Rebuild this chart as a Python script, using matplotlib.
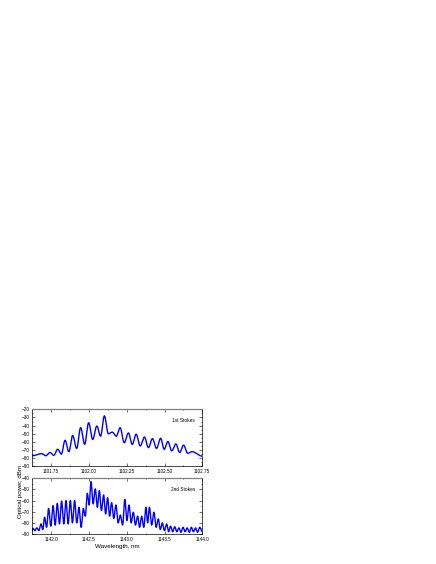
import numpy as np
import matplotlib
matplotlib.use('Agg')
import matplotlib.pyplot as plt
from matplotlib.ticker import MultipleLocator, FormatStrFormatter

plt.rcParams['font.family'] = ['Liberation Sans', 'DejaVu Sans']

# 1st Stokes: peak wavelengths (nm), peak levels and valley levels between them (dBm)
stokes1_wl = [1101.687, 1101.742, 1101.793, 1101.842, 1101.892, 1101.945, 1101.998,
              1102.052, 1102.102, 1102.155, 1102.206, 1102.261, 1102.312, 1102.367,
              1102.420, 1102.474, 1102.522, 1102.575, 1102.626, 1102.681]
stokes1_peak = [-74.5, -73.0, -69.0, -58.0, -52.0, -42.5, -36.5,
                -40.5, -28.0, -48.0, -42.5, -49.0, -50.5, -54.0,
                -56.0, -55.5, -59.5, -62.5, -64.0, -72.0]
stokes1_valley = [-77.0, -76.5, -75.0, -72.0, -68.0, -63.0, -57.0,
                  -53.0, -50.0, -53.0, -61.0, -63.0, -65.0, -67.0,
                  -68.0, -69.0, -71.0, -73.0, -74.0]
stokes1_edges = [-77.0, -77.5]

# 2nd Stokes
stokes2_wl = [1141.760, 1141.810, 1141.865, 1141.913, 1141.966, 1142.025, 1142.081,
              1142.138, 1142.196, 1142.253, 1142.310, 1142.368, 1142.425, 1142.478,
              1142.527, 1142.584, 1142.637, 1142.694, 1142.747, 1142.800, 1142.857,
              1142.915, 1142.975, 1143.030, 1143.087, 1143.144, 1143.197, 1143.254,
              1143.300, 1143.360, 1143.418, 1143.470, 1143.528, 1143.580, 1143.635,
              1143.690, 1143.745, 1143.800, 1143.855, 1143.910, 1143.965]
stokes2_peak = [-85.0, -84.5, -81.0, -75.0, -67.0, -64.5, -62.5,
                -60.5, -60.0, -60.0, -60.0, -66.0, -67.0, -53.5,
                -43.0, -49.5, -51.0, -55.0, -57.5, -62.0, -64.0,
                -73.0, -59.0, -64.0, -70.5, -74.0, -74.0, -66.0,
                -66.0, -70.5, -76.5, -80.0, -81.0, -83.0, -83.5,
                -84.5, -84.0, -84.5, -84.0, -84.5, -84.0]
stokes2_valley = [-87.0, -87.0, -86.0, -84.0, -83.0, -82.0, -81.0,
                  -81.0, -81.0, -80.0, -80.0, -84.0, -74.0, -64.0,
                  -63.0, -66.0, -69.0, -72.0, -74.0, -76.0, -80.0,
                  -82.0, -78.0, -80.0, -82.0, -84.0, -84.0, -80.0,
                  -82.0, -84.0, -86.0, -87.0, -88.0, -88.0, -88.0,
                  -88.5, -88.0, -88.5, -88.0, -88.5]
stokes2_edges = [-87.0, -88.0]


def spectrum(wl, xlim, peaks, peak_db, valley_db, edges):
    # nodes alternate peak / valley, valleys sit midway between peaks
    mids = [(a + b) / 2 for a, b in zip(peaks[:-1], peaks[1:])]
    nx = [xlim[0]]
    ny = [edges[0]]
    for i, (c, p) in enumerate(zip(peaks, peak_db)):
        nx.append(c)
        ny.append(p)
        if i < len(mids):
            nx.append(mids[i])
            ny.append(valley_db[i])
    nx.append(xlim[1])
    ny.append(edges[1])
    nx = np.array(nx)
    ny = np.array(ny)
    idx = np.clip(np.searchsorted(nx, wl) - 1, 0, len(nx) - 2)
    t = (wl - nx[idx]) / (nx[idx + 1] - nx[idx])
    s = (1 - np.cos(np.pi * t)) / 2
    return ny[idx] + (ny[idx + 1] - ny[idx]) * s


fig = plt.figure(figsize=(4.36, 5.64), dpi=100)
ax1 = fig.add_axes([0.074, 0.1732, 0.390, 0.101])
ax2 = fig.add_axes([0.074, 0.0532, 0.390, 0.0988])

xlim1 = (1101.625, 1102.75)
wl1 = np.linspace(xlim1[0], xlim1[1], 4000)
ax1.plot(wl1, spectrum(wl1, xlim1, stokes1_wl, stokes1_peak, stokes1_valley, stokes1_edges),
         color='#0000ff', lw=1.0)
ax1.set_xlim(*xlim1)
ax1.set_ylim(-90, -20)
ax1.xaxis.set_major_locator(MultipleLocator(0.25))
ax1.xaxis.set_minor_locator(MultipleLocator(0.125))
ax1.yaxis.set_major_locator(MultipleLocator(10))
ax1.yaxis.set_minor_locator(MultipleLocator(5))
ax1.xaxis.set_major_formatter(FormatStrFormatter('%.2f'))
ax1.text(0.89, 0.77, '1st Stokes', transform=ax1.transAxes, fontsize=3.4, ha='center')

xlim2 = (1141.75, 1144.0)
wl2 = np.linspace(xlim2[0], xlim2[1], 6000)
ax2.plot(wl2, spectrum(wl2, xlim2, stokes2_wl, stokes2_peak, stokes2_valley, stokes2_edges),
         color='#0000ff', lw=1.0)
ax2.set_xlim(*xlim2)
ax2.set_ylim(-90, -40)
ax2.xaxis.set_major_locator(MultipleLocator(0.5))
ax2.xaxis.set_minor_locator(MultipleLocator(0.25))
ax2.yaxis.set_major_locator(MultipleLocator(10))
ax2.yaxis.set_minor_locator(MultipleLocator(5))
ax2.xaxis.set_major_formatter(FormatStrFormatter('%.1f'))
ax2.text(0.89, 0.78, '2nd Stokes', transform=ax2.transAxes, fontsize=3.4, ha='center')
ax2.set_xlabel('Wavelength, nm', fontsize=4.5, labelpad=1.5)

for ax in (ax1, ax2):
    ax.tick_params(which='both', direction='in', top=True, right=True,
                   labelsize=3.3, pad=2, width=0.4)
    ax.tick_params(which='major', length=2)
    ax.tick_params(which='minor', length=1)
    for s in ax.spines.values():
        s.set_linewidth(0.5)
    ax.spines['top'].set_color('#808080')
    ax.spines['top'].set_linewidth(0.9)

fig.text(0.047, 0.129, 'Optical power, dBm', rotation=90, fontsize=4.4,
         ha='center', va='center')

fig.savefig('out.png', dpi=100)
